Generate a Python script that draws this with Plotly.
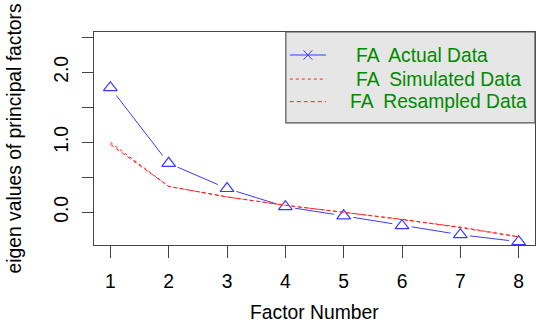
import plotly.graph_objects as go

factors = [1, 2, 3, 4, 5, 6, 7, 8]
fa_actual = [1.78, 0.70, 0.34, 0.08, -0.05, -0.19, -0.32, -0.42]
fa_simulated = [1.00, 0.37, 0.22, 0.10, 0.00, -0.10, -0.21, -0.35]
fa_resampled = [0.97, 0.37, 0.22, 0.10, 0.00, -0.10, -0.22, -0.35]
y_ticks = [0.0, 0.5, 1.0, 1.5, 2.0, 2.5]
y_ticktext = ["0.0", "", "1.0", "", "2.0", ""]
legend_labels = ["FA  Actual Data", "FA  Simulated Data", "FA  Resampled Data"]

BLUE = "#3b3bff"
RED = "#ff2020"
GREEN = "#008a00"
FONT = "Liberation Sans, Arial, sans-serif"
FS = 19.3

fig = go.Figure()
fig.add_trace(go.Scatter(x=factors, y=fa_actual, mode="lines",
                         line=dict(color=BLUE, width=1), showlegend=False))
# white gaps around points (R type="b")
fig.add_trace(go.Scatter(x=factors, y=fa_actual, mode="markers",
                         marker=dict(symbol="circle", size=20, color="white",
                                     line=dict(width=0)), showlegend=False))
fig.add_trace(go.Scatter(x=factors, y=fa_actual, mode="markers",
                         marker=dict(symbol="triangle-up-open", size=12, color=BLUE,
                                     line=dict(width=1.2, color=BLUE)), showlegend=False))
fig.add_trace(go.Scatter(x=factors, y=fa_simulated, mode="lines",
                         line=dict(color=RED, width=1, dash="dot"), showlegend=False))
fig.add_trace(go.Scatter(x=factors, y=fa_resampled, mode="lines",
                         line=dict(color=RED, width=1, dash="4px,3px"), showlegend=False))

# legend box
shapes = [dict(type="rect", xref="paper", yref="paper", x0=0.435, x1=1.0, y0=0.573, y1=1.0,
               fillcolor="#e6e6e6", line=dict(color="#555555", width=1.2), layer="above")]
ys = [0.892, 0.779, 0.673]
dashes = ["solid", "dot", "4px,3px"]
colors = [BLUE, RED, RED]
for yv, d, c in zip(ys, dashes, colors):
    shapes.append(dict(type="line", xref="paper", yref="paper", x0=0.444, x1=0.526, y0=yv, y1=yv,
                       line=dict(color=c, width=1, dash=d), layer="above"))
# x marker in legend
mx, dx, dy = 0.485, 0.010, 0.022
shapes.append(dict(type="line", xref="paper", yref="paper", x0=mx - dx, x1=mx + dx,
                   y0=ys[0] - dy, y1=ys[0] + dy, line=dict(color=BLUE, width=1), layer="above"))
shapes.append(dict(type="line", xref="paper", yref="paper", x0=mx - dx, x1=mx + dx,
                   y0=ys[0] + dy, y1=ys[0] - dy, line=dict(color=BLUE, width=1), layer="above"))

annotations = []
text_x = [0.59, 0.59, 0.576]
for t, xv, yv in zip(legend_labels, text_x, ys):
    annotations.append(dict(text=t, xref="paper", yref="paper", x=xv, y=yv, xanchor="left",
                            yanchor="middle", showarrow=False,
                            font=dict(family=FONT, size=FS, color=GREEN)))
annotations.append(dict(text="Factor Number", xref="paper", yref="paper", x=0.5, y=0,
                        yshift=-67, xanchor="center", yanchor="middle", showarrow=False,
                        font=dict(family=FONT, size=FS, color="black")))
annotations.append(dict(text="eigen values of principal factors", xref="paper", yref="paper",
                        x=0, y=0.5, xshift=-80, xanchor="center", yanchor="middle",
                        textangle=-90, showarrow=False,
                        font=dict(family=FONT, size=FS, color="black")))

fig.update_layout(
    width=553, height=327,
    margin=dict(l=94, r=18, t=32, b=82),
    paper_bgcolor="white", plot_bgcolor="white",
    shapes=shapes, annotations=annotations,
    font=dict(family=FONT, size=FS, color="black"),
)
fig.update_xaxes(range=[0.72, 8.28], tickvals=factors, ticks="outside", ticklen=12,
                 tickcolor="#444444", showgrid=False, zeroline=False, showline=True,
                 linecolor="#444444", linewidth=1.2, mirror=True, ticklabelstandoff=7,
                 tickfont=dict(family=FONT, size=FS, color="black"))
fig.update_yaxes(range=[-0.467, 2.576], tickvals=y_ticks, ticktext=y_ticktext,
                 ticks="outside", ticklen=11, tickcolor="#444444", tickangle=-90,
                 showgrid=False, zeroline=False, showline=True, linecolor="#444444",
                 linewidth=1.2, mirror=True, ticklabelstandoff=6,
                 tickfont=dict(family=FONT, size=FS, color="black"))

fig.write_html("out.html")
